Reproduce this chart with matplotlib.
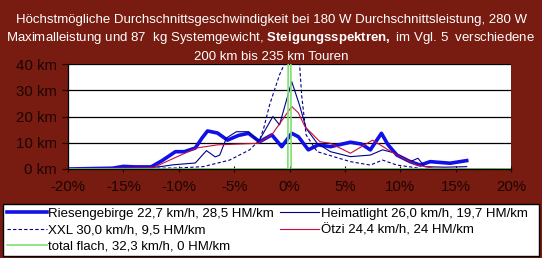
import matplotlib
matplotlib.use('Agg')
from matplotlib import pyplot as plt
from matplotlib.patches import Rectangle
from matplotlib.ticker import FixedLocator

plt.rcParams['font.family'] = ['Liberation Sans', 'DejaVu Sans']
plt.rcParams['mathtext.fontset'] = 'custom'
plt.rcParams['mathtext.rm'] = 'Liberation Sans'
plt.rcParams['mathtext.bf'] = 'Liberation Sans:bold'

# Steigung (%) -> km pro Steigungsklasse
ries_pct = [-20, -16, -15, -14, -12.5, -11.5, -10.3, -9.5, -8.5, -7.9, -7.4, -6.5, -5.6, -4.6,
            -3.7, -2.7, -1.6, -0.7, 0.2, 0.8, 1.7, 2.6, 3.7, 5.5, 6.5, 7.3, 8.3, 8.9, 9.7,
            10.9, 11.8, 12.7, 14.5, 16]
ries_km = [0, 0.3, 1.0, 0.8, 0.8, 3.2, 6.6, 6.6, 8.0, 11.8, 14.5, 13.7, 11.0, 12.8,
           13.6, 10.4, 13.0, 8.5, 13.6, 12.3, 7.3, 9.2, 8.5, 10.2, 9.5, 7.3, 13.6, 9.2, 5.3,
           2.8, 1.5, 2.8, 2.2, 3.2]

heimat_pct = [-20, -13, -11.5, -10.5, -8.5, -7.5, -6.7, -6.3, -5.7, -4.8, -3.7, -2.8, -1.5,
              -0.9, 0.2, 0.9, 1.5, 2.5, 3.7, 5.5, 7.3, 8.4, 9.5, 10.9, 11.6, 12.2, 14, 16]
heimat_km = [0, 0.3, 1.0, 1.6, 2.3, 7.0, 4.6, 5.3, 11.8, 14.2, 14.2, 10.4, 20.0,
             16.8, 33.3, 24.4, 15.5, 9.8, 6.6, 4.7, 5.3, 7.3, 6.1, 2.8, 4.1, 0.9, 0.7, 0.9]

xxl_pct = [-20, -10, -7.8, -5.4, -3.6, -2.7, -2.3, -1.8, -0.9, -0.4, 0, 0.5, 0.9, 1.1, 1.5,
           2.5, 5.5, 7.3, 8.4, 9.7, 10.9, 12, 18]
xxl_km = [0, 0.4, 0.9, 3.4, 7.3, 11.0, 16.0, 24.4, 35.9, 40.5, 48, 45, 40.5, 28, 13,
          6.6, 2.8, 1.5, 3.4, 1.5, 0.8, 0.1, 0]

oetzi_pct = [-20, -12.3, -10.5, -8.4, -6.5, -2.8, -1.5, 0.2, 0.8, 1.4, 2.75, 3.7, 5.5,
             7.5, 8.9, 10, 11.5, 13, 20]
oetzi_km = [0, 0.5, 4.0, 8.0, 9.2, 9.8, 13.6, 23.8, 21.4, 16.1, 10.4, 9.8, 6.0,
            11.0, 7.3, 4.7, 1.5, 0.3, 0]

flach_pct = [-20, -0.15, 0, 0.15, 20]
flach_km = [0, 0, 200, 0, 0]

labels = ['Riesengebirge 22,7 km/h, 28,5 HM/km', 'Heimatlight 26,0 km/h, 19,7 HM/km',
          'XXL 30,0 km/h, 9,5 HM/km', u'\u00d6tzi 24,4 km/h, 24 HM/km',
          'total flach, 32,3 km/h, 0 HM/km']

x_ticks = [-20, -15, -10, -5, 0, 5, 10, 15, 20]
y_ticks = [0, 10, 20, 30, 40]

bg = '#781b10'
W, H = 542, 258

fig = plt.figure(figsize=(W / 100, H / 100), dpi=100, facecolor=bg)
ax = fig.add_axes([68 / W, 1 - 169 / H, 443 / W, 105 / H])
ax.set_facecolor('white')

l_ries, = ax.plot(ries_pct, ries_km, color='#1010e8', lw=2.6, solid_joinstyle='round')
l_heim, = ax.plot(heimat_pct, heimat_km, color='#00008c', lw=0.8)
l_xxl, = ax.plot(xxl_pct, xxl_km, color='#00008c', lw=0.8, ls=(0, (3, 2)))
l_oetz, = ax.plot(oetzi_pct, oetzi_km, color='#c8103c', lw=0.8)
l_flach, = ax.plot(flach_pct, flach_km, color='#80e070', lw=1.2)

ax.set_xlim(-20, 20)
ax.set_ylim(0, 40)
ax.xaxis.set_major_locator(FixedLocator(x_ticks))
ax.yaxis.set_major_locator(FixedLocator(y_ticks))
ax.set_xticklabels(['%d%%' % t for t in x_ticks])
ax.set_yticklabels(['%d km' % t for t in y_ticks])
ax.grid(axis='y', color='black', lw=0.9)
ax.set_axisbelow(True)
for s in ['top', 'right']:
    ax.spines[s].set_visible(False)
ax.spines['left'].set_linewidth(0.9)
ax.spines['bottom'].set_linewidth(0.9)
ax.tick_params(axis='both', colors='#1c0402', labelsize=10.8, length=4, width=0.8)
ax.tick_params(axis='x', direction='inout', pad=6)
ax.tick_params(axis='y', pad=4)

title_kw = dict(color='white', fontsize=9.5, ha='center', va='center')
fig.text(0.5, 1 - 19.5 / H,
         u'H\u00f6chstm\u00f6gliche Durchschnittsgeschwindigkeit bei 180 W Durchschnittsleistung, 280 W',
         **title_kw)
fig.text(0.5, 1 - 38.5 / H,
         r'Maximalleistung und 87  kg Systemgewicht, $\mathbf{Steigungsspektren,}$ im Vgl. 5  verschiedene',
         **title_kw)
fig.text(0.5, 1 - 57 / H, '200 km bis 235 km Touren', **title_kw)

# Legendenrahmen
fig.patches.append(Rectangle((3 / W, 1 - 256 / H), 536 / W, 52 / H, transform=fig.transFigure,
                             facecolor='white', edgecolor='black', lw=1.0, zorder=0))

handles = [l_ries, l_xxl, l_flach, l_heim, l_oetz]
leg_labels = [labels[0], labels[2], labels[4], labels[1], labels[3]]
leg = fig.legend(handles, leg_labels, ncol=2, loc='upper left',
                 bbox_to_anchor=(7 / W, 1 - 207.5 / H), frameon=False,
                 fontsize=9.5, borderaxespad=0, borderpad=0,
                 handlelength=3.0, handletextpad=0.12, labelspacing=0.32,
                 columnspacing=0.45)

fig.savefig('out.png', dpi=100, facecolor=bg)
